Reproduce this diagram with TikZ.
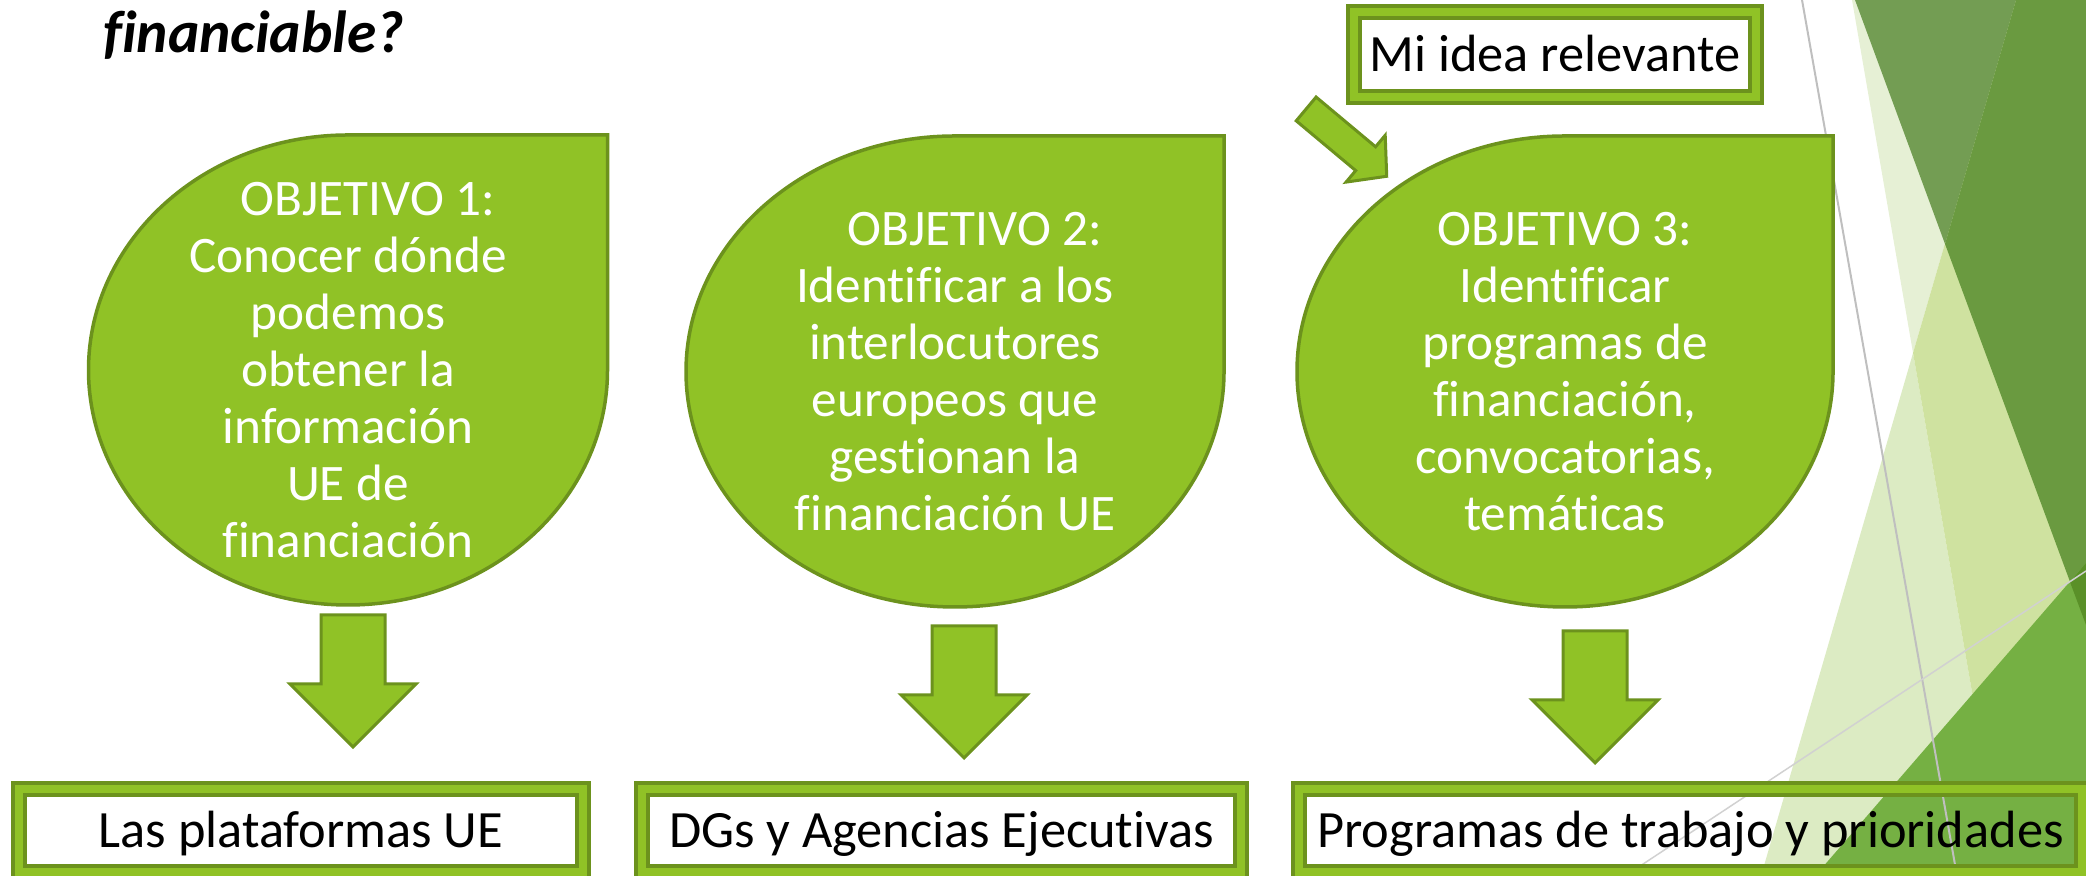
\documentclass[tikz,border=0pt]{standalone}
\usepackage{fontspec}
\setmainfont[Ligatures=NoCommon]{Carlito}
\usetikzlibrary{shapes.arrows}
\definecolor{leaf}{HTML}{90C226}
\definecolor{leafdark}{HTML}{6C921D}
\definecolor{facetQ}{HTML}{E6F0D5}
\definecolor{facetP}{HTML}{DCEBC3}
\definecolor{facetPQ}{HTML}{CFE2A0}
\definecolor{facetDl}{HTML}{739D53}
\definecolor{facetD}{HTML}{6A9A40}
\definecolor{facetG}{HTML}{75B043}
\definecolor{facetDG}{HTML}{5A9028}
\tikzstyle{teardrop} = [draw=leafdark, line width=1.75pt, fill=leaf]
\tikzstyle{goal} = [text=white, align=center, inner sep=0pt, font=\fontsize{25.6pt}{28.5pt}\selectfont]
\tikzstyle{outcome} = [rectangle, draw=leafdark, double=leaf, double distance=4pt, line width=2pt, inner sep=0pt, text=black, text height=22.3pt, text depth=5.2pt, font=\fontsize{26.2pt}{30pt}\selectfont]
\tikzstyle{bigarrow} = [single arrow, draw=leafdark, fill=leaf, line width=1.5pt, rotate=-90, inner xsep=0pt, inner ysep=15.25pt, single arrow head extend=15.5pt, single arrow tip angle=90, minimum height=66pt]
\tikzstyle{smallarrow} = [single arrow, draw=leafdark, fill=leaf, line width=1.5pt, rotate=-39.9, inner xsep=0pt, inner ysep=7pt, single arrow head extend=7.5pt, single arrow tip angle=96, minimum height=52.5pt]
\begin{document}
\begin{tikzpicture}[x=0.5pt, y=0.5pt]
\useasboundingbox (0,0) rectangle (2086,876);
\clip (0,0) rectangle (2086,876);
% facet background
\fill[facetQ] (1852,876) -- (2016,876) -- (1913,523) -- cycle;
\fill[facetP] (1913,523) -- (1761,0) -- (2004,0) -- cycle;
\fill[facetPQ] (2016,876) -- (2086,876) -- (2086,0) -- (2004,0) -- (1913,523) -- cycle;
\fill[facetDl] (1855,876) -- (2016,876) -- (1945,632) -- cycle;
\fill[facetD] (2016,876) -- (2086,876) -- (2086,251) -- (1945,632) -- cycle;
\fill[facetG] (2086,313) -- (1815,0) -- (2086,0) -- cycle;
\fill[facetDG] (2086,313) -- (2070,294) -- (2086,251) -- cycle;
\draw[black!25, line width=1pt] (1802,876) -- (1957,0);
\draw[black!18, line width=0.75pt] (2086,305) -- (1625,0);

\node[anchor=base west, inner sep=0pt, font=\fontsize{29.7pt}{32pt}\selectfont\bfseries\itshape] (title) at (103,823) {financiable?};

\coordinate (c1) at (348,506);
\coordinate (c2) at (955,504.5);
\coordinate (c3) at (1565,504.5);
\draw[teardrop] (c1) ++(259.5,0) arc[start angle=0, end angle=-270, x radius=129.75pt, y radius=117.5pt] -- ++(259.5,0) -- cycle;
\draw[teardrop] (c2) ++(269,0) arc[start angle=0, end angle=-270, x radius=134.5pt, y radius=117.75pt] -- ++(269,0) -- cycle;
\draw[teardrop] (c3) ++(268,0) arc[start angle=0, end angle=-270, x radius=134pt, y radius=117.75pt] -- ++(268,0) -- cycle;

\node[goal, minimum width=259.5pt, minimum height=235pt] (obj1) at (c1) {\hspace*{20pt}OBJETIVO 1:\\Conocer dónde\\podemos\\obtener la\\información\\UE de\\financiación};
\node[goal, minimum width=269pt, minimum height=235.5pt] (obj2) at (c2) {\hspace*{20pt}OBJETIVO 2:\\Identificar a los\\interlocutores\\europeos que\\gestionan la\\financiación UE};
\node[goal, minimum width=268pt, minimum height=235.5pt] (obj3) at (c3) {OBJETIVO 3:\\Identificar\\programas de\\financiación,\\convocatorias,\\temáticas};

\node[outcome, minimum width=201pt, minimum height=42.5pt] (idea) at (1555,821.5) {Mi idea relevante};
\node[smallarrow, anchor=tail] (hint) at ([shift={(-47,-9)}]idea.south west) {};

\node[bigarrow, anchor=tail] (down1) at ([shift={(5,-8)}]obj1.south) {};
\node[bigarrow, anchor=tail] (down2) at ([shift={(9,-17)}]obj2.south) {};
\node[bigarrow, anchor=tail] (down3) at ([shift={(30,-22)}]obj3.south) {};

\node[outcome, minimum width=282pt, minimum height=41.5pt] (res1) at (301,45.5) {Las plataformas UE};
\node[outcome, minimum width=299.5pt, minimum height=41.5pt] (res2) at (941.5,45.5) {DGs y Agencias Ejecutivas};
\node[outcome, minimum width=391.5pt, minimum height=41.5pt] (res3) at (1690.5,45.5) {Programas de trabajo y prioridades};
\end{tikzpicture}
\end{document}
